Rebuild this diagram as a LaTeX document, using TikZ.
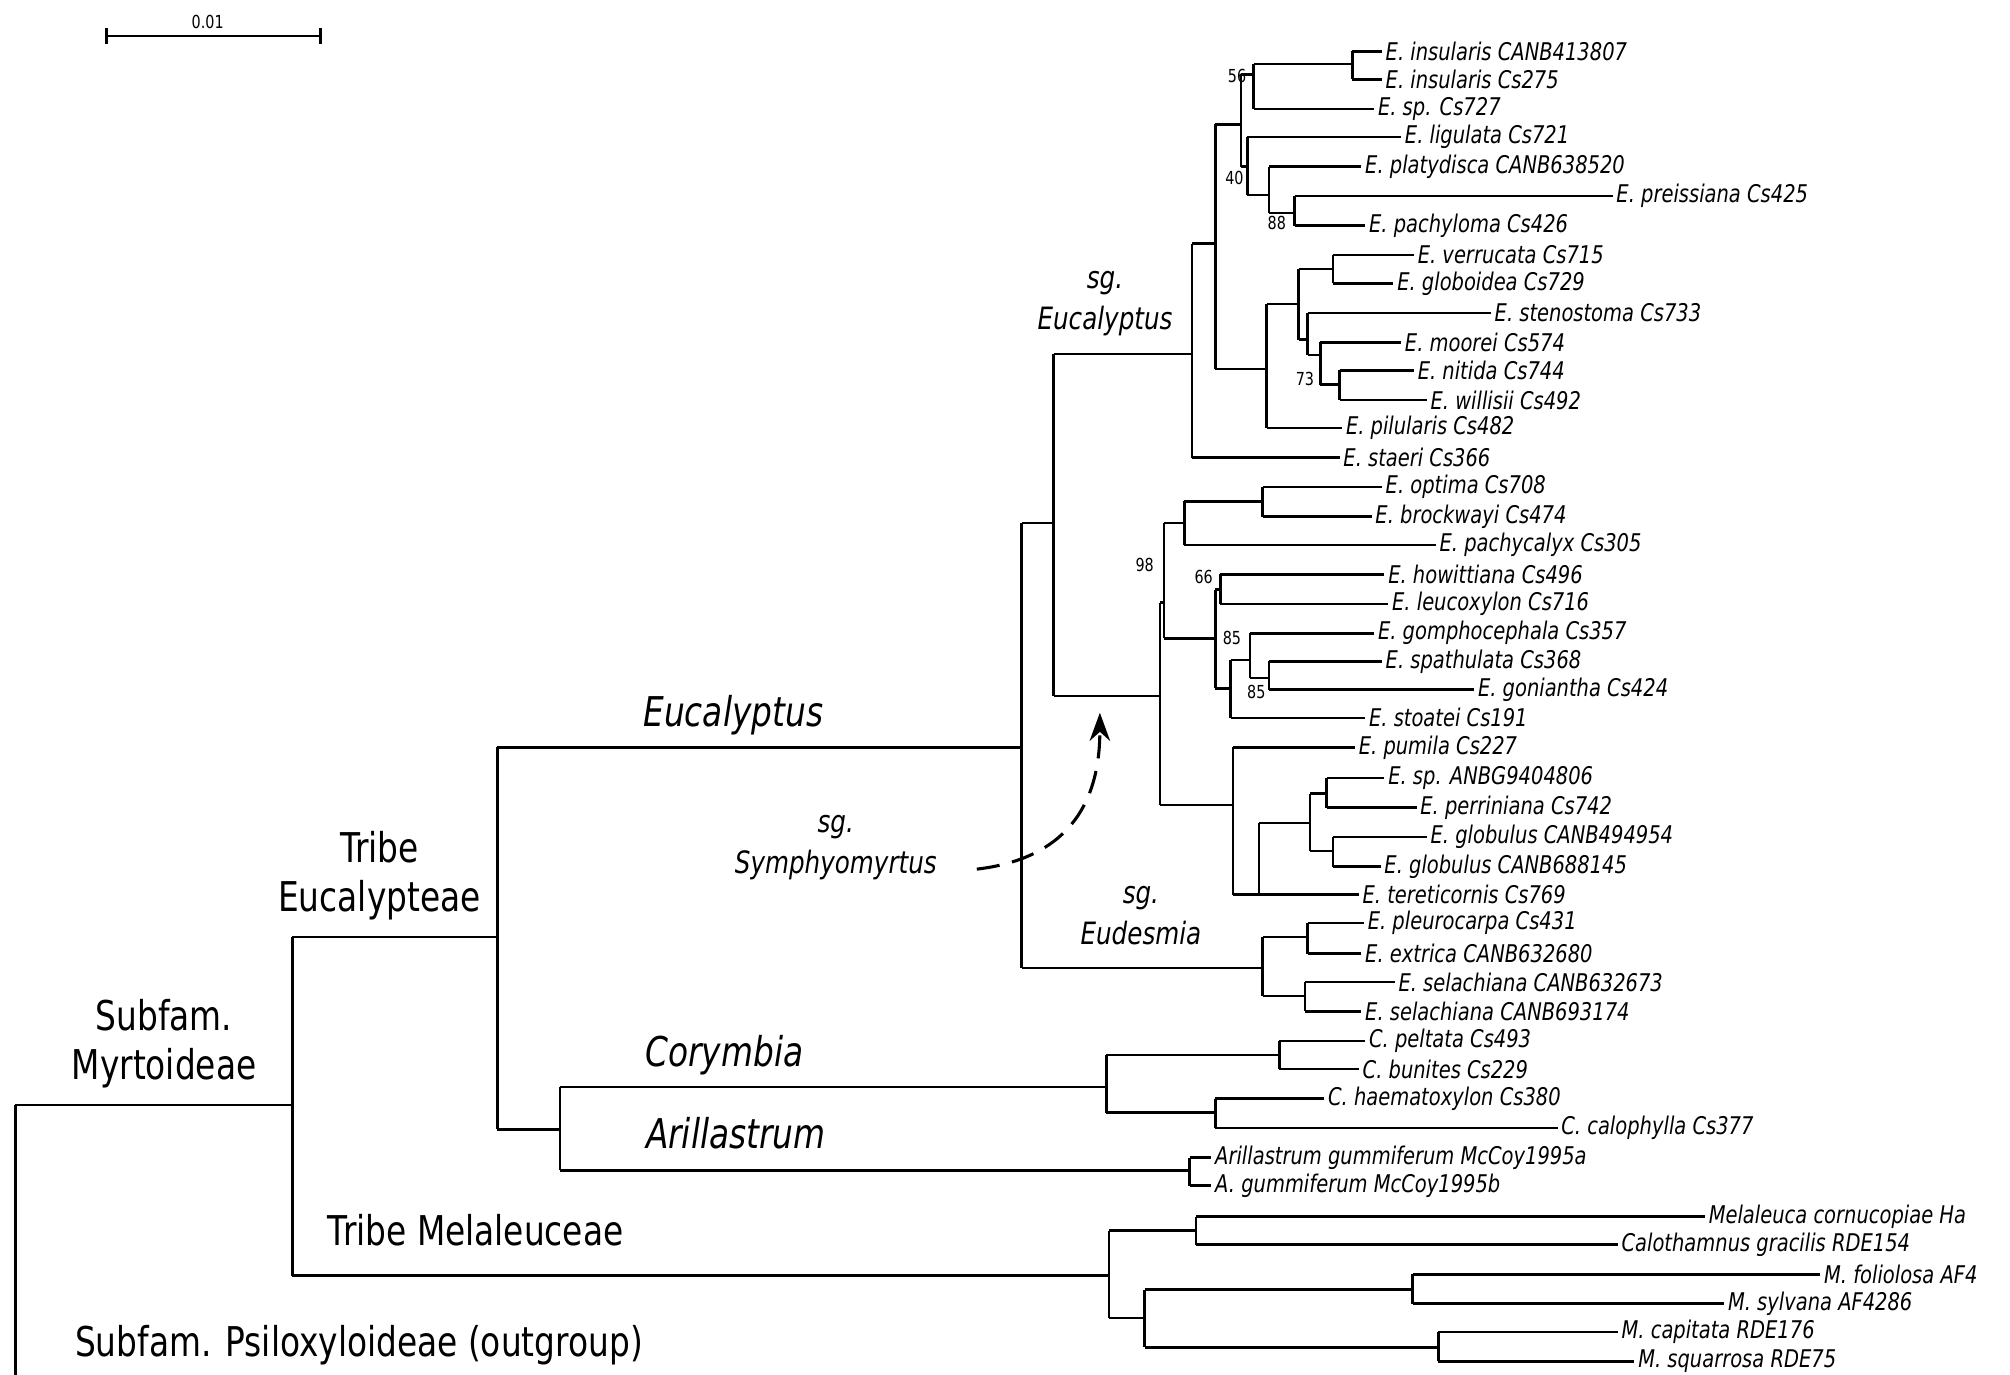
\documentclass[tikz,border=0pt]{standalone}
\usepackage{fontspec}
\usetikzlibrary{arrows.meta}
\setmainfont{DejaVu Sans}[FakeStretch=0.8]
\begin{document}
\begin{tikzpicture}[x=0.5pt,y=-0.5pt,line width=1pt,
  lf/.style={anchor=west,inner sep=1pt,font=\fontsize{9.5}{10}\selectfont\itshape},
  bs/.style={inner sep=0pt,font=\fontsize{7}{8}\selectfont},
  big/.style={font=\fontsize{16}{19}\selectfont,align=center},
  bigi/.style={font=\fontsize{16}{19}\selectfont\itshape},
  sg/.style={font=\fontsize{12}{16}\selectfont\itshape,align=center}]
\useasboundingbox (0,0) rectangle (1568,1072);
\clip (0,0) rectangle (1568,1072);
\newcommand\vl[3]{\draw (#1,#2) -- (#1,#3);}
\newcommand\hl[3]{\draw (#1,#3) -- (#2,#3);}
\newcommand\leaf[5]{\draw (#2,#3) -- (#4,#3); \node[lf] (#1) at (#4,#3) {#5};}
% scale bar
\draw (83,28) -- (250,28); \draw (83,22) -- (83,34); \draw (250,22) -- (250,34);
\node[bs] (sc) at (162,17) {0.01};
% root
\vl{12}{862}{1080} \hl{12}{228}{862}
\vl{228}{731}{995}
\hl{228}{388}{731} \hl{228}{865}{995}
% Eucalypteae
\vl{388}{583}{881} \hl{388}{797}{583} \hl{388}{437}{881}
% Eucalyptus genus
\vl{797}{408}{755} \hl{797}{822}{408} \hl{797}{985}{755}
\vl{822}{276}{543} \hl{822}{930}{276} \hl{822}{905}{543}
% sg Eucalyptus
\vl{930}{190}{357} \hl{930}{948}{190} \leaf{l21}{930}{357}{1045}{E. staeri Cs366}
\vl{948}{97}{288} \hl{948}{968}{97} \hl{948}{988}{288}
\vl{968}{58}{130} \hl{968}{978}{58} \hl{968}{973}{130}
\node[bs] (b56) at (965,59) {56}; \node[bs] (b40) at (963,139) {40};
\vl{978}{50}{85} \hl{978}{1055}{50} \leaf{l3}{978}{85}{1072}{E. sp. Cs727}
\vl{1055}{40}{62} \leaf{l1}{1055}{40}{1078}{E. insularis CANB413807} \leaf{l2}{1055}{62}{1078}{E. insularis Cs275}
\vl{973}{107}{152} \leaf{l4}{973}{107}{1093}{E. ligulata Cs721} \hl{973}{990}{152}
\vl{990}{130}{166} \leaf{l5}{990}{130}{1062}{E. platydisca CANB638520} \hl{990}{1010}{166}
\node[bs] (b88) at (996,174) {88};
\vl{1010}{153}{176} \leaf{l6}{1010}{153}{1258}{E. preissiana Cs425} \leaf{l7}{1010}{176}{1065}{E. pachyloma Cs426}
\vl{988}{237}{334} \hl{988}{1013}{237} \leaf{l20}{988}{334}{1047}{E. pilularis Cs482}
\vl{1013}{210}{265} \hl{1013}{1040}{210} \hl{1013}{1020}{265}
\vl{1040}{199}{221} \leaf{l8}{1040}{199}{1103}{E. verrucata Cs715} \leaf{l9}{1040}{221}{1087}{E. globoidea Cs729}
\vl{1020}{244}{277} \leaf{l10}{1020}{244}{1163}{E. stenostoma Cs733} \hl{1020}{1030}{277}
\node[bs] (b73) at (1018,296) {73};
\vl{1030}{267}{300} \leaf{l11}{1030}{267}{1093}{E. moorei Cs574} \hl{1030}{1045}{300}
\vl{1045}{289}{312} \leaf{l12}{1045}{289}{1103}{E. nitida Cs744} \leaf{l13}{1045}{312}{1113}{E. willisii Cs492}
% Symphyomyrtus
\vl{905}{470}{628} \hl{905}{908}{470} \hl{905}{962}{628}
\node[bs] (b98) at (893,441) {98};
\vl{908}{408}{498} \hl{908}{924}{408} \hl{908}{948}{498}
\vl{924}{391}{425} \hl{924}{985}{391} \leaf{s3}{924}{425}{1120}{E. pachycalyx Cs305}
\vl{985}{380}{403} \leaf{s1}{985}{380}{1078}{E. optima Cs708} \leaf{s2}{985}{403}{1070}{E. brockwayi Cs474}
\vl{948}{460}{537} \hl{948}{952}{460} \hl{948}{960}{537}
\node[bs] (b66) at (939,450) {66};
\vl{952}{448}{471} \leaf{s4}{952}{448}{1080}{E. howittiana Cs496} \leaf{s5}{952}{471}{1083}{E. leucoxylon Cs716}
\vl{960}{515}{560} \hl{960}{975}{515} \leaf{s9}{960}{560}{1065}{E. stoatei Cs191}
\node[bs] (b85a) at (961,498) {85};
\vl{975}{494}{529} \leaf{s6}{975}{494}{1072}{E. gomphocephala Cs357} \hl{975}{990}{529}
\node[bs] (b85b) at (980,540) {85};
\vl{990}{516}{538} \leaf{s7}{990}{516}{1078}{E. spathulata Cs368} \leaf{s8}{990}{538}{1150}{E. goniantha Cs424}
\vl{962}{583}{698} \leaf{s10}{962}{583}{1057}{E. pumila Cs227} \hl{962}{982}{698}
\vl{982}{642}{698} \hl{982}{1022}{642} \leaf{s15}{982}{698}{1060}{E. tereticornis Cs769}
\vl{1022}{619}{664} \hl{1022}{1035}{619} \hl{1022}{1040}{664}
\vl{1035}{607}{630} \leaf{s11}{1035}{607}{1080}{E. sp. ANBG9404806} \leaf{s12}{1035}{630}{1105}{E. perriniana Cs742}
\vl{1040}{653}{676} \leaf{s13}{1040}{653}{1113}{E. globulus CANB494954} \leaf{s14}{1040}{676}{1077}{E. globulus CANB688145}
% Eudesmia
\vl{985}{731}{777} \hl{985}{1020}{731} \hl{985}{1018}{777}
\vl{1020}{720}{744} \leaf{d1}{1020}{720}{1064}{E. pleurocarpa Cs431} \leaf{d2}{1020}{744}{1062}{E. extrica CANB632680}
\vl{1018}{766}{789} \leaf{d3}{1018}{766}{1088}{E. selachiana CANB632673} \leaf{d4}{1018}{789}{1062}{E. selachiana CANB693174}
% Corymbia / Arillastrum
\vl{437}{848}{913} \hl{437}{863}{848} \hl{437}{928}{913}
\vl{863}{823}{868} \hl{863}{998}{823} \hl{863}{948}{868}
\vl{998}{812}{834} \leaf{c1}{998}{812}{1065}{C. peltata Cs493} \leaf{c2}{998}{834}{1060}{C. bunites Cs229}
\vl{948}{857}{880} \leaf{c3}{948}{857}{1033}{C. haematoxylon Cs380} \leaf{c4}{948}{880}{1215}{C. calophylla Cs377}
\vl{928}{903}{925} \leaf{a1}{928}{903}{945}{Arillastrum gummiferum McCoy1995a} \leaf{a2}{928}{925}{945}{A. gummiferum McCoy1995b}
% Melaleuceae
\vl{865}{960}{1028} \hl{865}{933}{960} \hl{865}{893}{1028}
\vl{933}{949}{971} \leaf{m1}{933}{949}{1330}{Melaleuca cornucopiae Ha} \leaf{m2}{933}{971}{1262}{Calothamnus gracilis RDE154}
\vl{893}{1006}{1051} \hl{893}{1102}{1006} \hl{893}{1122}{1051}
\vl{1102}{994}{1017} \leaf{m3}{1102}{994}{1420}{M. foliolosa AF4} \leaf{m4}{1102}{1017}{1345}{M. sylvana AF4286}
\vl{1122}{1039}{1062} \leaf{m5}{1122}{1039}{1262}{M. capitata RDE176} \leaf{m6}{1122}{1062}{1275}{M. squarrosa RDE75}
% group labels
\node[bigi] (gE) at (572,558) {Eucalyptus};
\node[big] (tE) at (296,683) {Tribe\\Eucalypteae};
\node[big] (sM) at (128,814) {Subfam.\\Myrtoideae};
\node[bigi] (gC) at (565,823) {Corymbia};
\node[bigi] (gA) at (574,884) {Arillastrum};
\node[big] (tM) at (371,960) {Tribe Melaleuceae};
\node[big] (sP) at (280,1049) {Subfam. Psiloxyloideae (outgroup)};
\node[sg] (sgE) at (862,237) {sg.\\Eucalyptus};
\node[sg] (sgS) at (652,661) {sg.\\Symphyomyrtus};
\node[sg] (sgD) at (890,714) {sg.\\Eudesmia};
\coordinate (arrStart) at (762,678);
\coordinate (arrEnd) at (858,556);
\draw[line width=1.2pt,dash pattern=on 9pt off 5pt,-{Stealth[length=11pt,width=8pt]}] (arrStart) .. controls (830,670) and (858,630) .. (arrEnd);
\end{tikzpicture}
\end{document}
